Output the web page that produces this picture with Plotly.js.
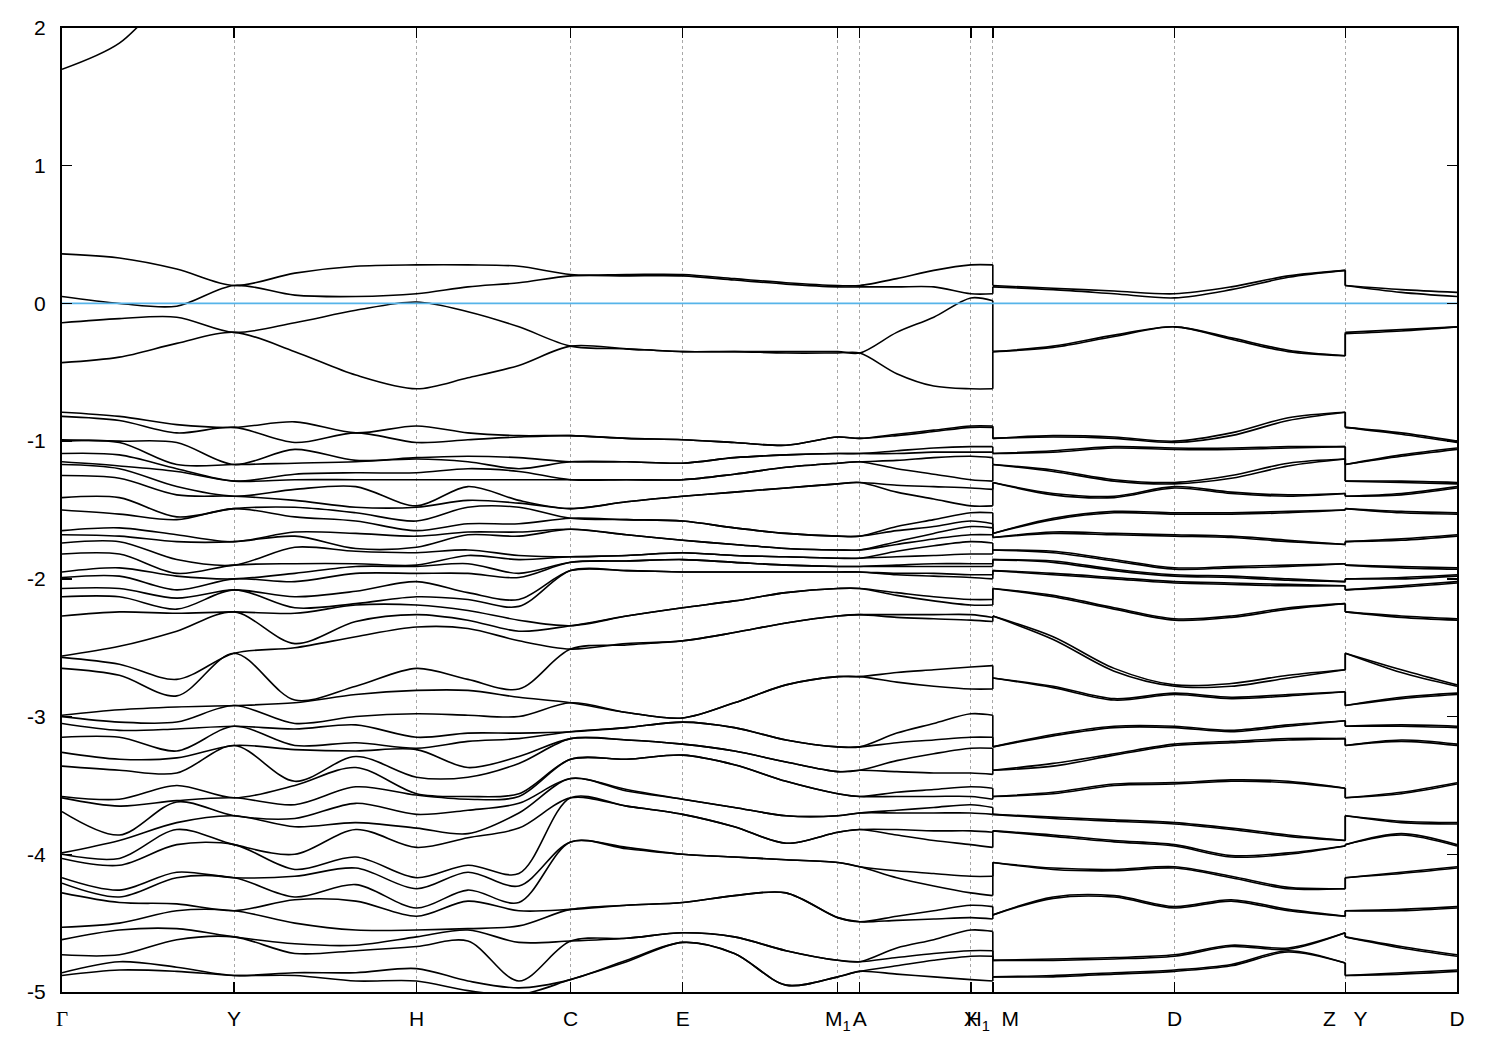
<!DOCTYPE html>
<html><head><meta charset="utf-8">
<script src="https://cdn.plot.ly/plotly-3.0.1.min.js"></script>
<style>html,body{margin:0;padding:0;background:#fff}</style>
</head><body>
<div id="chart" style="width:1500px;height:1050px"></div>
<script>
// k-path positions of the sampled columns (arbitrary path-length units)
const kPath = [0, 0.1667, 0.3334, 0.5, 0.6765, 0.8538, 1.0302, 1.1794, 1.3276, 1.4779,
  1.6407, 1.8035, 1.9538, 2.1038, 2.2541, 2.318, 2.4256, 2.5331, 2.6407, 2.7047,
  2.7047, 2.88, 3.0573, 3.2326, 3.3974, 3.5631, 3.7288, 3.7288, 3.8916, 4.0535];
// path pieces (column index ranges), broken at H1|M and Z|Y
const segments = [[0, 19], [20, 26], [27, 29]];
// high-symmetry ticks
const tickPos = [0, 0.5, 1.0302, 1.4779, 1.8035, 2.2541, 2.318, 2.6407, 2.7047, 3.2326, 3.7288, 4.0535];
const tickLabels = ['<span style="font-family:\'Liberation Serif\'">Γ</span>', 'Y', 'H', 'C', 'E',
  'M<sub>1</sub>', 'A', 'X', 'H<sub>1</sub>\u00a0\u00a0M', 'D', 'Z\u00a0\u00a0\u00a0Y', 'D'];
const yTicks = [-5, -4, -3, -2, -1, 0, 1, 2];
const yTickLabels = ['-5', '-4', '-3', '-2', '-1', '0', '1', '2'];
const fermiLevel = 0;

// band energies (eV), sorted from top to bottom, one array per k column
const e_G    = [1.70, 0.36, 0.05, -0.14, -0.43, -0.79, -0.82, -0.99, -1.00, -1.09, -1.15, -1.17, -1.25, -1.41, -1.50, -1.65, -1.68, -1.74, -1.82, -1.95, -1.99, -2.07, -2.13, -2.27, -2.56, -2.57, -2.65, -2.99, -3.00, -3.05, -3.15, -3.26, -3.36, -3.58, -3.59, -3.69, -3.99, -4.00, -4.03, -4.17, -4.21, -4.28, -4.53, -4.62, -4.73, -4.86, -4.88];
const e_GY1  = [1.89, 0.33, 0.00, -0.11, -0.39, -0.82, -0.85, -1.00, -1.01, -1.10, -1.18, -1.20, -1.27, -1.41, -1.53, -1.63, -1.69, -1.73, -1.82, -1.92, -1.98, -2.07, -2.13, -2.24, -2.49, -2.62, -2.70, -2.95, -3.04, -3.10, -3.15, -3.31, -3.39, -3.60, -3.65, -3.86, -3.90, -4.03, -4.08, -4.26, -4.31, -4.35, -4.50, -4.55, -4.73, -4.78, -4.84];
const e_GY2  = [2.30, 0.25, -0.02, -0.10, -0.29, -0.88, -0.94, -1.01, -1.17, -1.20, -1.22, -1.33, -1.39, -1.55, -1.57, -1.68, -1.73, -1.86, -1.96, -1.98, -2.08, -2.14, -2.22, -2.25, -2.38, -2.73, -2.85, -2.93, -3.04, -3.09, -3.25, -3.30, -3.41, -3.50, -3.61, -3.62, -3.77, -3.82, -3.93, -4.13, -4.17, -4.36, -4.41, -4.54, -4.62, -4.82, -4.85];
const e_Y    = [2.60, 0.13, 0.13, -0.21, -0.21, -0.90, -0.90, -1.17, -1.17, -1.29, -1.29, -1.40, -1.40, -1.49, -1.49, -1.73, -1.73, -1.90, -1.90, -2.00, -2.00, -2.08, -2.08, -2.24, -2.24, -2.54, -2.54, -2.92, -2.92, -3.07, -3.07, -3.21, -3.21, -3.59, -3.59, -3.72, -3.72, -3.93, -3.93, -4.17, -4.17, -4.41, -4.41, -4.60, -4.60, -4.88, -4.88];
const e_YH1  = [2.60, 0.22, 0.06, -0.14, -0.35, -0.86, -1.01, -1.06, -1.16, -1.24, -1.28, -1.35, -1.43, -1.48, -1.55, -1.66, -1.69, -1.77, -1.89, -1.96, -2.02, -2.13, -2.21, -2.25, -2.47, -2.50, -2.88, -2.90, -3.05, -3.09, -3.21, -3.24, -3.47, -3.50, -3.64, -3.74, -3.80, -4.00, -4.11, -4.16, -4.31, -4.33, -4.50, -4.65, -4.72, -4.86, -4.88];
const e_YH2  = [2.60, 0.27, 0.05, -0.05, -0.52, -0.94, -0.94, -1.14, -1.15, -1.23, -1.28, -1.33, -1.48, -1.52, -1.58, -1.67, -1.78, -1.80, -1.89, -1.91, -1.96, -2.09, -2.18, -2.19, -2.31, -2.42, -2.78, -2.84, -3.00, -3.06, -3.19, -3.25, -3.29, -3.37, -3.51, -3.63, -3.77, -3.82, -4.02, -4.10, -4.22, -4.34, -4.55, -4.66, -4.70, -4.86, -4.92];
const e_H    = [2.60, 0.28, 0.07, 0.01, -0.62, -0.89, -1.01, -1.12, -1.13, -1.23, -1.28, -1.47, -1.48, -1.58, -1.65, -1.69, -1.77, -1.81, -1.90, -1.91, -1.96, -2.02, -2.13, -2.19, -2.26, -2.35, -2.65, -2.81, -2.98, -3.15, -3.23, -3.24, -3.44, -3.56, -3.57, -3.71, -3.81, -3.95, -4.17, -4.25, -4.39, -4.45, -4.55, -4.60, -4.67, -4.83, -4.92];
const e_HC1  = [2.60, 0.28, 0.12, -0.06, -0.54, -0.94, -0.99, -1.11, -1.15, -1.20, -1.28, -1.33, -1.43, -1.48, -1.60, -1.66, -1.68, -1.79, -1.83, -1.89, -1.96, -2.10, -2.15, -2.23, -2.30, -2.36, -2.73, -2.81, -2.99, -3.12, -3.18, -3.37, -3.44, -3.58, -3.60, -3.68, -3.85, -3.88, -4.08, -4.13, -4.26, -4.34, -4.54, -4.55, -4.63, -4.92, -4.99];
const e_HC2  = [2.60, 0.27, 0.15, -0.17, -0.45, -0.96, -0.97, -1.12, -1.20, -1.22, -1.28, -1.43, -1.45, -1.48, -1.60, -1.66, -1.69, -1.83, -1.86, -1.96, -1.99, -2.15, -2.20, -2.30, -2.38, -2.45, -2.80, -2.86, -3.00, -3.12, -3.16, -3.29, -3.34, -3.56, -3.58, -3.63, -3.70, -3.81, -4.14, -4.23, -4.35, -4.41, -4.52, -4.64, -4.92, -4.97, -5.02];
const e_C    = [2.60, 0.21, 0.20, -0.31, -0.31, -0.96, -0.96, -1.15, -1.15, -1.28, -1.28, -1.49, -1.49, -1.56, -1.56, -1.64, -1.64, -1.84, -1.84, -1.88, -1.88, -1.94, -1.94, -2.34, -2.34, -2.51, -2.51, -2.90, -2.90, -3.11, -3.11, -3.16, -3.16, -3.31, -3.31, -3.45, -3.45, -3.59, -3.59, -3.91, -3.91, -4.40, -4.40, -4.63, -4.63, -4.91, -4.91];
const e_CE1  = [2.60, 0.21, 0.20, -0.33, -0.33, -0.98, -0.98, -1.15, -1.15, -1.28, -1.28, -1.44, -1.44, -1.57, -1.57, -1.68, -1.68, -1.83, -1.83, -1.87, -1.87, -1.94, -1.94, -2.27, -2.27, -2.47, -2.48, -2.97, -2.97, -3.08, -3.08, -3.17, -3.17, -3.31, -3.31, -3.53, -3.54, -3.65, -3.65, -3.95, -3.96, -4.37, -4.37, -4.61, -4.61, -4.77, -4.78];
const e_E    = [2.60, 0.21, 0.20, -0.35, -0.35, -0.99, -0.99, -1.16, -1.16, -1.28, -1.28, -1.40, -1.40, -1.58, -1.58, -1.72, -1.72, -1.81, -1.81, -1.86, -1.86, -1.95, -1.95, -2.21, -2.21, -2.45, -2.45, -3.01, -3.01, -3.04, -3.04, -3.20, -3.20, -3.28, -3.28, -3.60, -3.60, -3.71, -3.71, -4.00, -4.00, -4.35, -4.35, -4.57, -4.57, -4.64, -4.64];
const e_EM1a = [2.60, 0.18, 0.17, -0.35, -0.35, -1.01, -1.01, -1.12, -1.12, -1.24, -1.24, -1.37, -1.37, -1.63, -1.63, -1.75, -1.75, -1.83, -1.83, -1.88, -1.88, -1.95, -1.95, -2.16, -2.16, -2.39, -2.39, -2.90, -2.90, -3.08, -3.08, -3.25, -3.25, -3.35, -3.35, -3.66, -3.66, -3.80, -3.80, -4.02, -4.02, -4.30, -4.30, -4.60, -4.60, -4.72, -4.72];
const e_EM1b = [2.60, 0.15, 0.14, -0.35, -0.36, -1.03, -1.03, -1.10, -1.10, -1.19, -1.19, -1.34, -1.34, -1.67, -1.67, -1.78, -1.78, -1.84, -1.84, -1.90, -1.90, -1.95, -1.95, -2.10, -2.10, -2.32, -2.32, -2.77, -2.77, -3.17, -3.17, -3.33, -3.33, -3.47, -3.47, -3.72, -3.72, -3.92, -3.92, -4.04, -4.04, -4.28, -4.28, -4.70, -4.70, -4.95, -4.95];
const e_M1   = [2.60, 0.13, 0.12, -0.35, -0.36, -0.97, -0.97, -1.09, -1.09, -1.16, -1.16, -1.31, -1.31, -1.69, -1.69, -1.79, -1.79, -1.85, -1.85, -1.91, -1.91, -1.95, -1.95, -2.07, -2.07, -2.27, -2.27, -2.71, -2.71, -3.22, -3.22, -3.40, -3.40, -3.56, -3.56, -3.72, -3.72, -3.84, -3.84, -4.06, -4.06, -4.46, -4.46, -4.77, -4.77, -4.89, -4.89];
const e_A    = [2.60, 0.13, 0.12, -0.36, -0.36, -0.98, -0.98, -1.09, -1.09, -1.15, -1.15, -1.30, -1.30, -1.69, -1.69, -1.79, -1.79, -1.85, -1.85, -1.91, -1.91, -1.95, -1.95, -2.07, -2.07, -2.26, -2.26, -2.71, -2.71, -3.22, -3.22, -3.39, -3.39, -3.58, -3.58, -3.70, -3.70, -3.82, -3.82, -4.09, -4.09, -4.49, -4.49, -4.78, -4.78, -4.85, -4.85];
const e_AX1  = [2.60, 0.18, 0.12, -0.21, -0.51, -0.95, -0.96, -1.07, -1.09, -1.14, -1.20, -1.32, -1.37, -1.62, -1.65, -1.73, -1.75, -1.80, -1.84, -1.90, -1.91, -1.96, -1.97, -2.10, -2.12, -2.26, -2.28, -2.68, -2.75, -3.12, -3.19, -3.32, -3.40, -3.55, -3.58, -3.68, -3.70, -3.82, -3.86, -4.12, -4.17, -4.45, -4.48, -4.68, -4.75, -4.81, -4.87];
const e_AX2  = [2.60, 0.24, 0.12, -0.10, -0.60, -0.92, -0.93, -1.05, -1.08, -1.12, -1.24, -1.33, -1.42, -1.57, -1.62, -1.67, -1.71, -1.76, -1.83, -1.89, -1.91, -1.96, -1.98, -2.13, -2.16, -2.26, -2.29, -2.66, -2.78, -3.05, -3.17, -3.27, -3.41, -3.53, -3.58, -3.66, -3.70, -3.83, -3.90, -4.14, -4.23, -4.41, -4.47, -4.62, -4.72, -4.77, -4.89];
const e_X    = [2.60, 0.28, 0.07, 0.04, -0.62, -0.89, -0.90, -1.04, -1.08, -1.11, -1.28, -1.34, -1.47, -1.52, -1.58, -1.62, -1.68, -1.73, -1.82, -1.89, -1.91, -1.97, -1.99, -2.15, -2.19, -2.26, -2.30, -2.64, -2.80, -2.98, -3.15, -3.23, -3.41, -3.51, -3.58, -3.64, -3.70, -3.83, -3.93, -4.16, -4.28, -4.37, -4.46, -4.55, -4.70, -4.74, -4.91];
const e_H1   = [2.60, 0.28, 0.07, 0.02, -0.62, -0.89, -0.90, -1.04, -1.08, -1.12, -1.29, -1.35, -1.47, -1.52, -1.60, -1.63, -1.68, -1.74, -1.82, -1.89, -1.91, -1.97, -2.00, -2.15, -2.19, -2.28, -2.31, -2.63, -2.80, -2.99, -3.15, -3.23, -3.42, -3.52, -3.60, -3.66, -3.71, -3.84, -3.95, -4.16, -4.30, -4.38, -4.47, -4.56, -4.70, -4.74, -4.92];
const e_M    = [2.60, 0.13, 0.12, -0.35, -0.35, -0.98, -0.98, -1.09, -1.09, -1.17, -1.17, -1.30, -1.30, -1.67, -1.67, -1.70, -1.70, -1.79, -1.79, -1.86, -1.86, -1.94, -1.94, -2.07, -2.07, -2.27, -2.27, -2.72, -2.72, -3.22, -3.22, -3.39, -3.39, -3.58, -3.58, -3.71, -3.71, -3.83, -3.83, -4.06, -4.06, -4.44, -4.44, -4.77, -4.77, -4.89, -4.89];
const e_MD1  = [2.60, 0.11, 0.10, -0.31, -0.32, -0.96, -0.97, -1.07, -1.08, -1.21, -1.22, -1.38, -1.39, -1.56, -1.57, -1.66, -1.67, -1.80, -1.81, -1.87, -1.88, -1.96, -1.97, -2.12, -2.13, -2.42, -2.44, -2.78, -2.79, -3.13, -3.14, -3.34, -3.36, -3.55, -3.56, -3.73, -3.74, -3.86, -3.87, -4.10, -4.11, -4.31, -4.32, -4.76, -4.77, -4.88, -4.89];
const e_MD2  = [2.60, 0.09, 0.07, -0.23, -0.24, -0.97, -0.98, -1.04, -1.05, -1.28, -1.29, -1.40, -1.41, -1.51, -1.52, -1.67, -1.68, -1.86, -1.87, -1.93, -1.94, -1.99, -2.00, -2.21, -2.22, -2.65, -2.67, -2.87, -2.88, -3.07, -3.08, -3.27, -3.28, -3.49, -3.50, -3.75, -3.76, -3.90, -3.91, -4.11, -4.12, -4.30, -4.31, -4.75, -4.76, -4.86, -4.87];
const e_D    = [2.60, 0.07, 0.04, -0.17, -0.17, -1.00, -1.01, -1.05, -1.06, -1.30, -1.31, -1.33, -1.34, -1.52, -1.53, -1.68, -1.69, -1.92, -1.93, -1.97, -1.98, -2.02, -2.03, -2.29, -2.30, -2.77, -2.78, -2.83, -2.84, -3.07, -3.08, -3.20, -3.21, -3.48, -3.49, -3.77, -3.78, -3.93, -3.94, -4.09, -4.10, -4.38, -4.39, -4.73, -4.74, -4.84, -4.85];
const e_DZ1  = [2.60, 0.12, 0.10, -0.25, -0.26, -0.94, -0.96, -1.05, -1.06, -1.25, -1.27, -1.37, -1.38, -1.52, -1.53, -1.69, -1.70, -1.91, -1.92, -1.98, -1.99, -2.03, -2.04, -2.27, -2.28, -2.76, -2.78, -2.86, -2.87, -3.10, -3.11, -3.18, -3.19, -3.46, -3.47, -3.81, -3.82, -4.01, -4.02, -4.16, -4.17, -4.33, -4.34, -4.66, -4.67, -4.80, -4.81];
const e_DZ2  = [2.60, 0.20, 0.19, -0.34, -0.35, -0.83, -0.85, -1.04, -1.05, -1.16, -1.18, -1.39, -1.40, -1.51, -1.52, -1.72, -1.73, -1.90, -1.91, -2.00, -2.01, -2.04, -2.05, -2.21, -2.22, -2.70, -2.72, -2.84, -2.85, -3.06, -3.07, -3.16, -3.17, -3.47, -3.48, -3.86, -3.87, -3.99, -4.00, -4.24, -4.25, -4.40, -4.41, -4.68, -4.69, -4.70, -4.71];
const e_Z    = [2.60, 0.24, 0.24, -0.38, -0.38, -0.79, -0.79, -1.04, -1.04, -1.13, -1.13, -1.38, -1.38, -1.50, -1.50, -1.75, -1.75, -1.89, -1.89, -2.02, -2.02, -2.05, -2.05, -2.18, -2.18, -2.66, -2.66, -2.82, -2.82, -3.03, -3.03, -3.16, -3.16, -3.52, -3.52, -3.90, -3.90, -3.94, -3.94, -4.25, -4.25, -4.45, -4.45, -4.57, -4.57, -4.79, -4.79];
const e_Y2   = [2.60, 0.13, 0.13, -0.21, -0.22, -0.90, -0.90, -1.17, -1.17, -1.29, -1.29, -1.40, -1.40, -1.49, -1.49, -1.73, -1.73, -1.90, -1.90, -2.00, -2.00, -2.08, -2.08, -2.24, -2.24, -2.54, -2.54, -2.92, -2.92, -3.07, -3.07, -3.21, -3.21, -3.59, -3.59, -3.72, -3.72, -3.93, -3.93, -4.17, -4.17, -4.41, -4.41, -4.60, -4.60, -4.88, -4.88];
const e_YD1  = [2.60, 0.10, 0.08, -0.19, -0.20, -0.94, -0.95, -1.10, -1.11, -1.29, -1.30, -1.38, -1.39, -1.51, -1.52, -1.71, -1.72, -1.91, -1.92, -1.99, -2.00, -2.05, -2.06, -2.27, -2.28, -2.66, -2.68, -2.86, -2.87, -3.06, -3.07, -3.17, -3.18, -3.55, -3.56, -3.76, -3.77, -3.85, -3.86, -4.13, -4.14, -4.40, -4.41, -4.67, -4.68, -4.86, -4.87];
const e_D2   = [2.60, 0.08, 0.05, -0.17, -0.17, -1.00, -1.01, -1.05, -1.06, -1.30, -1.31, -1.33, -1.34, -1.52, -1.53, -1.68, -1.69, -1.92, -1.93, -1.97, -1.98, -2.02, -2.03, -2.29, -2.30, -2.77, -2.78, -2.83, -2.84, -3.07, -3.08, -3.20, -3.21, -3.48, -3.49, -3.77, -3.78, -3.93, -3.94, -4.09, -4.10, -4.38, -4.39, -4.73, -4.74, -4.84, -4.85];

const columns = [e_G, e_GY1, e_GY2, e_Y, e_YH1, e_YH2, e_H, e_HC1, e_HC2, e_C,
  e_CE1, e_E, e_EM1a, e_EM1b, e_M1, e_A, e_AX1, e_AX2, e_X, e_H1,
  e_M, e_MD1, e_MD2, e_D, e_DZ1, e_DZ2, e_Z, e_Y2, e_YD1, e_D2];

const nBands = e_G.length;
const traces = [];
for (let b = 0; b < nBands; b++) {
  const xs = [], ys = [];
  segments.forEach(([s, e], si) => {
    if (si > 0) { xs.push(null); ys.push(null); }
    for (let c = s; c <= e; c++) { xs.push(kPath[c]); ys.push(columns[c][b]); }
  });
  traces.push({x: xs, y: ys, type: 'scatter', mode: 'lines', hoverinfo: 'skip',
    line: {color: '#000', width: 1.6, shape: 'spline', smoothing: 0.9}});
}
// vertical connections at the path breaks (gnuplot joins consecutive points)
const jx = [], jy = [];
for (let b = 0; b < nBands; b++) {
  for (let s = 1; s < segments.length; s++) {
    const a = segments[s - 1][1], n = segments[s][0];
    jx.push(kPath[a], kPath[n], null);
    jy.push(columns[a][b], columns[n][b], null);
  }
}
traces.push({x: jx, y: jy, type: 'scatter', mode: 'lines', hoverinfo: 'skip',
  line: {color: '#000', width: 1.6}});
// Fermi level
traces.push({x: [kPath[0], kPath[kPath.length - 1]], y: [fermiLevel, fermiLevel], type: 'scatter',
  mode: 'lines', hoverinfo: 'skip', line: {color: '#56B4E9', width: 1.8}});

const font = {family: 'Liberation Sans, Arial, Helvetica, sans-serif', size: 21, color: '#000'};
const layout = {
  width: 1500, height: 1050,
  margin: {l: 62, r: 43, t: 28, b: 58},
  paper_bgcolor: '#fff', plot_bgcolor: '#fff',
  showlegend: false,
  font: font,
  xaxis: {
    range: [kPath[0], kPath[kPath.length - 1]],
    tickmode: 'array', tickvals: tickPos, ticktext: tickLabels, tickangle: 0,
    ticks: 'inside', ticklen: 10, tickwidth: 1.5, tickcolor: '#000',
    showline: true, linecolor: '#000', linewidth: 2, mirror: 'ticks',
    showgrid: true, gridcolor: '#a8a8a8', gridwidth: 1, griddash: 'dot',
    zeroline: false, tickfont: font, ticklabelstandoff: 7
  },
  yaxis: {
    range: [-5, 2],
    tickmode: 'array', tickvals: yTicks, ticktext: yTickLabels, tickangle: 0,
    ticks: 'inside', ticklen: 10, tickwidth: 1.5, tickcolor: '#000',
    showline: true, linecolor: '#000', linewidth: 2, mirror: 'ticks',
    showgrid: false, zeroline: false, tickfont: font, ticklabelstandoff: 10
  }
};
Plotly.newPlot('chart', traces, layout, {staticPlot: true, displayModeBar: false});
</script>
</body></html>
